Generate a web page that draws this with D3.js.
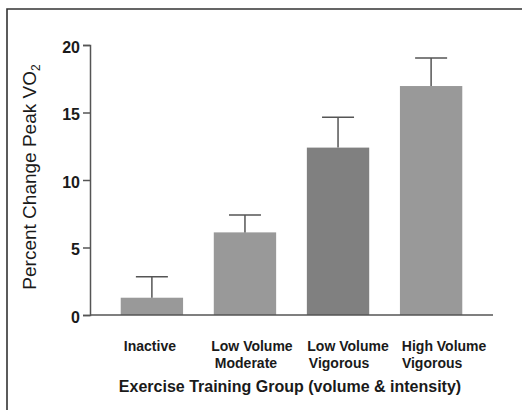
<!DOCTYPE html>
<html>
<head>
<meta charset="utf-8">
<script src="https://cdn.jsdelivr.net/npm/d3@7"></script>
<style>
  html, body { margin: 0; padding: 0; background: #fff; }
  svg { display: block; }
</style>
</head>
<body>
<svg id="chart" width="522" height="410"></svg>
<script>
const categories = [["Inactive"], ["Low Volume", "Moderate"], ["Low Volume", "Vigorous"], ["High Volume", "Vigorous"]];
const means = [1.28, 6.12, 12.4, 16.96];
const errUpper = [2.84, 7.41, 14.64, 19.04];
const yTicks = [0, 5, 10, 15, 20];
const barColors = ["#999999", "#999999", "#808080", "#999999"];

const svg = d3.select("#chart");
const font = "'Liberation Sans', Arial, Helvetica, sans-serif";
const textColor = "#1a1a1a";

// outer frame
svg.append("path")
  .attr("d", "M7,420 L7,9 L530,9")
  .attr("fill", "none").attr("stroke", "#333").attr("stroke-width", 1.6);

const x = d3.scaleBand().domain(d3.range(categories.length)).range([90, 493])
  .paddingInner(0.33).paddingOuter(0.33);
const y = d3.scaleLinear().domain([0, 20]).range([315, 45]);

// bars
svg.selectAll("rect.bar").data(means).enter().append("rect")
  .attr("class", "bar")
  .attr("x", (d, i) => x(i))
  .attr("width", x.bandwidth())
  .attr("y", d => y(d))
  .attr("height", d => y(0) - y(d))
  .attr("fill", (d, i) => barColors[i]);

// error bars
const eb = svg.selectAll("g.err").data(means).enter().append("g").attr("class", "err");
eb.append("line")
  .attr("x1", (d, i) => x(i) + x.bandwidth() / 2)
  .attr("x2", (d, i) => x(i) + x.bandwidth() / 2)
  .attr("y1", d => y(d))
  .attr("y2", (d, i) => y(errUpper[i]))
  .attr("stroke", "#555").attr("stroke-width", 1.5);
eb.append("line")
  .attr("x1", (d, i) => x(i) + x.bandwidth() / 2 - 16)
  .attr("x2", (d, i) => x(i) + x.bandwidth() / 2 + 16)
  .attr("y1", (d, i) => y(errUpper[i]))
  .attr("y2", (d, i) => y(errUpper[i]))
  .attr("stroke", "#555").attr("stroke-width", 1.5);

// y axis
const yAxis = svg.append("g").attr("transform", "translate(90,0)")
  .call(d3.axisLeft(y).tickValues(yTicks).tickSize(7).tickPadding(3));
yAxis.select(".domain").attr("stroke", "#555").attr("stroke-width", 1.5);
yAxis.selectAll(".tick line").attr("stroke", "#555").attr("stroke-width", 1.5);
yAxis.selectAll(".tick text")
  .attr("font-family", font).attr("font-size", 16).attr("font-weight", "bold")
  .attr("fill", textColor).attr("dy", "0.45em");

// x axis baseline
svg.append("line")
  .attr("x1", 90).attr("x2", 493).attr("y1", y(0)).attr("y2", y(0))
  .attr("stroke", "#555").attr("stroke-width", 1.5);

// category labels
const cl = svg.selectAll("text.cat").data(categories).enter().append("text")
  .attr("class", "cat")
  .attr("text-anchor", "middle")
  .attr("font-family", font).attr("font-size", 14).attr("font-weight", "bold")
  .attr("fill", textColor);
cl.each(function(d, i) {
  const t = d3.select(this);
  d.forEach((line, j) => {
    const shift = d.length > 1 ? (j === 0 ? 4 + 3 * i : 1) : -2;
    t.append("tspan")
      .attr("x", x(i) + x.bandwidth() / 2 + shift)
      .attr("y", 350.5 + j * 17.5)
      .text(line);
  });
});

// x axis title
svg.append("text")
  .attr("x", 290).attr("y", 391.5)
  .attr("text-anchor", "middle")
  .attr("font-family", font).attr("font-size", 16).attr("font-weight", "bold")
  .attr("fill", textColor)
  .text("Exercise Training Group (volume & intensity)");

// y axis title
const yt = svg.append("text")
  .attr("transform", "translate(36,177) rotate(-90)")
  .attr("text-anchor", "middle")
  .attr("font-family", font).attr("font-size", 19)
  .attr("fill", textColor);
yt.append("tspan").text("Percent Change Peak VO");
yt.append("tspan").attr("font-size", 12).attr("dy", 4).text("2");
</script>
</body>
</html>
